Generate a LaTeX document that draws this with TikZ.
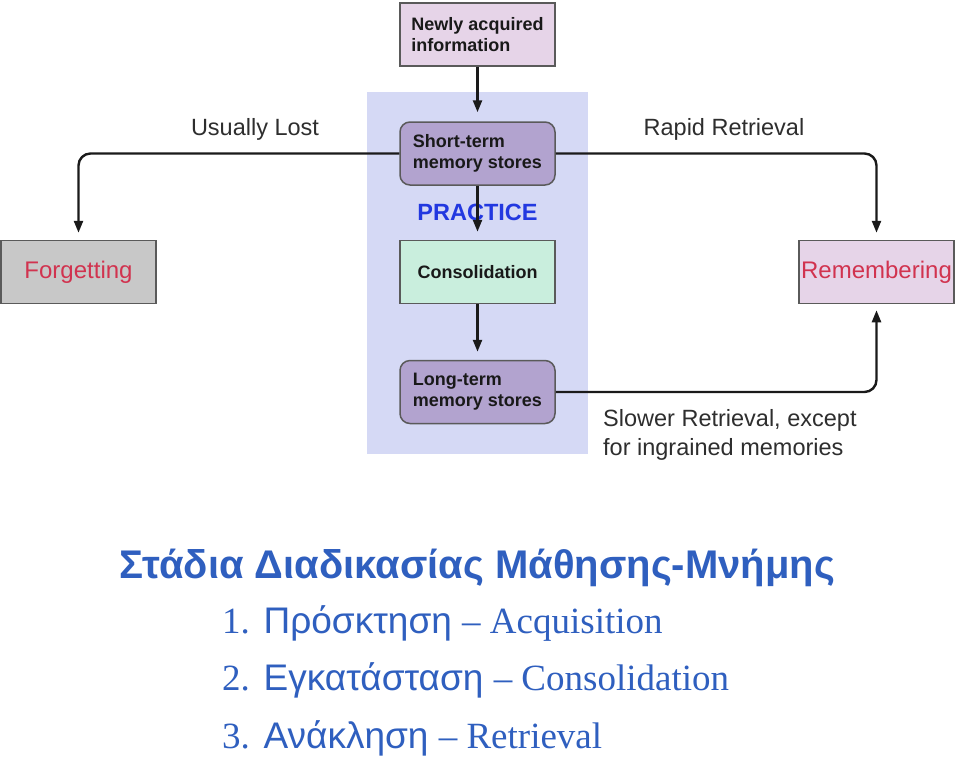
\documentclass[tikz,border=0pt]{standalone}
\usepackage{fontspec}
\setmainfont{Liberation Sans}
\newfontfamily\sansf{Liberation Sans}
\newfontfamily\seriff{Liberation Serif}
\usetikzlibrary{arrows.meta}
\definecolor{panelblue}{HTML}{D5D9F5}
\definecolor{pinkfill}{HTML}{E6D4E8}
\definecolor{purplefill}{HTML}{B2A3CF}
\definecolor{mintfill}{HTML}{C9EEDD}
\definecolor{grayfill}{HTML}{C8C8C8}
\definecolor{redtext}{HTML}{D1334F}
\definecolor{practiceblue}{HTML}{2238E0}
\definecolor{titleblue}{HTML}{2F5FBF}
\definecolor{boxborder}{HTML}{5A5A5A}
\definecolor{linecol}{HTML}{1A1A1A}
\tikzset{
  box/.style={draw=boxborder, line width=1.5pt, minimum width=155pt, minimum height=63pt, inner sep=0pt, align=left, text=black!90,
    font=\sansf\bfseries\fontsize{18}{21}\selectfont},
  roundbox/.style={box, rounded corners=10pt, fill=purplefill},
  outbox/.style={draw=boxborder, line width=1.5pt, minimum width=155pt, minimum height=63pt, inner sep=0pt, text=redtext,
    font=\sansf\fontsize{24}{28}\selectfont},
  conn/.style={draw=linecol, line width=2.4pt, -{Triangle[length=12pt,width=9pt]}},
  lbl/.style={text=black!82, font=\sansf\fontsize{23.5}{29}\selectfont, inner sep=0pt, align=left},
}
\begin{document}
\begin{tikzpicture}[x=1pt,y=-1pt]
\useasboundingbox (0,0) rectangle (960,756);
\fill[white] (0,0) rectangle (960,756);
% panel
\fill[panelblue] (367,92) rectangle (588,454);
% nodes
\node[box, fill=pinkfill] (newly) at (477.5,34.5) {Newly acquired\\information};
\node[roundbox] (st) at (477.5,153.5) {Short-term\\memory stores};
\node[box, fill=mintfill, align=center] (cons) at (477.5,272) {Consolidation};
\node[roundbox] (lt) at (477.5,392) {Long-term\\memory stores};
\node[outbox, fill=grayfill] (forg) at (78.5,272) {Forgetting};
\node[outbox, fill=pinkfill] (rem) at (876.5,272) {Remembering};
\node[text=practiceblue, font=\sansf\bfseries\fontsize{23.5}{28}\selectfont, inner sep=0pt] (prac) at (477.5,212) {PRACTICE};
% connectors
\draw[conn, shorten >=9pt] (newly) -- (st);
\draw[conn, shorten >=8pt] (st) -- (cons);
\draw[conn, shorten >=8pt] (cons) -- (lt);
\draw[conn, rounded corners=12pt, shorten >=7pt] (st.west) -| (forg.north);
\draw[conn, rounded corners=12pt, shorten >=7pt] (st.east) -| (rem.north);
\draw[conn, rounded corners=12pt, shorten >=6pt] (lt.east) -| (rem.south);
% labels
\node[lbl] (lost) at (255,129) {Usually Lost};
\node[lbl] (rapid) at (724,129) {Rapid Retrieval};
\node[lbl, anchor=north west] (slow) at (603,409) {Slower Retrieval, except\\for ingrained memories};
% bottom text
\node[anchor=base west, inner sep=0pt, text=titleblue, font=\sansf\bfseries\fontsize{40}{46}\selectfont] (title) at (119,578) {Στάδια Διαδικασίας Μάθησης-Μνήμης};
\node[anchor=base west, inner sep=0pt, text=titleblue, font=\fontsize{37}{42}\selectfont] (s1) at (222,633) {{\seriff 1.} {\sansf Πρόσκτηση} {\seriff – Acquisition}};
\node[anchor=base west, inner sep=0pt, text=titleblue, font=\fontsize{37}{42}\selectfont] (s2) at (222,690) {{\seriff 2.} {\sansf Εγκατάσταση} {\seriff – Consolidation}};
\node[anchor=base west, inner sep=0pt, text=titleblue, font=\fontsize{37}{42}\selectfont] (s3) at (222,748) {{\seriff 3.} {\sansf Ανάκληση} {\seriff – Retrieval}};
\end{tikzpicture}
\end{document}
